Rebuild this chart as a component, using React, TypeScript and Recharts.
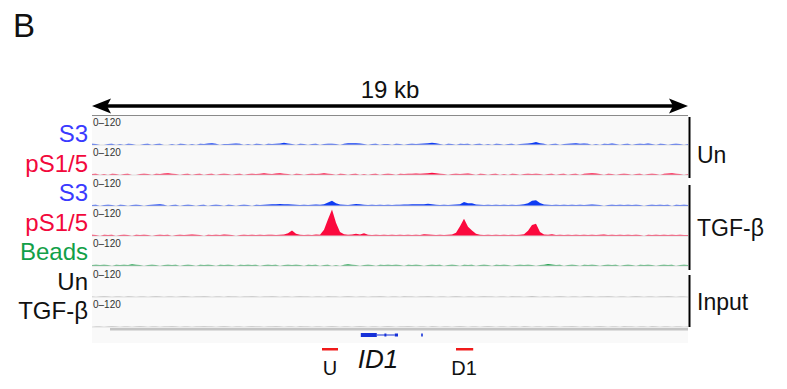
import { AreaChart, Area, XAxis, YAxis, ReferenceLine, ReferenceArea, ComposedChart, Line } from 'recharts';

// 19 kb window split into 150 bins; values are coverage on a 0–120 scale
const NBINS = 150;
const bins = Array.from({ length: NBINS }, (_, i) => i);

const s3Un = [
  5, 4, 0, 0, 4, 5, 0, 4, 0, 5, 4, 0, 0, 4, 5,
  0, 4, 5, 0, 0, 4, 0, 5, 4, 0, 4, 0, 5, 4, 6,
  8, 5, 0, 4, 4, 5, 6, 5, 0, 4, 0, 5, 4, 0, 5,
  4, 5, 6, 10, 6, 4, 0, 5, 4, 0, 4, 5, 0, 4, 5,
  5, 4, 0, 5, 7, 7, 8, 6, 4, 0, 4, 5, 0, 4, 4,
  0, 5, 4, 0, 4, 5, 4, 5, 6, 8, 10, 7, 4, 0, 5,
  4, 0, 5, 4, 5, 0, 4, 5, 0, 4, 0, 5, 4, 0, 4,
  5, 0, 4, 5, 6, 9, 13, 8, 5, 0, 4, 5, 0, 4, 5,
  6, 7, 5, 6, 5, 0, 4, 0, 5, 4, 6, 4, 0, 4, 5,
  0, 4, 5, 4, 6, 4, 0, 5, 4, 0, 4, 5, 4, 0, 4,
];

const pS15Un = [
  4, 5, 0, 4, 0, 5, 4, 0, 4, 5, 0, 0, 4, 5, 4,
  0, 5, 4, 6, 8, 5, 4, 0, 4, 5, 0, 4, 5, 0, 4,
  5, 0, 4, 5, 4, 0, 4, 5, 0, 4, 5, 4, 5, 7, 5,
  4, 6, 8, 5, 4, 0, 5, 4, 0, 4, 5, 4, 5, 7, 5,
  4, 0, 5, 4, 0, 4, 5, 0, 4, 0, 4, 5, 0, 4, 5,
  4, 0, 5, 4, 5, 5, 6, 5, 6, 7, 10, 7, 5, 4, 0,
  4, 5, 4, 5, 6, 4, 0, 5, 4, 0, 4, 5, 0, 4, 0,
  5, 4, 0, 4, 5, 4, 5, 4, 0, 4, 5, 0, 4, 5, 0,
  4, 5, 0, 5, 6, 8, 6, 4, 0, 5, 4, 0, 4, 5, 4,
  0, 4, 5, 0, 4, 5, 4, 0, 5, 6, 7, 5, 4, 0, 4,
];

const s3Tgf = [
  4, 5, 0, 4, 5, 4, 0, 5, 4, 0, 4, 5, 4, 0, 4,
  5, 6, 8, 5, 0, 4, 5, 0, 4, 5, 4, 0, 4, 5, 0,
  4, 5, 4, 0, 5, 4, 0, 4, 5, 4, 0, 5, 4, 5, 6,
  7, 8, 9, 8, 7, 6, 5, 4, 5, 4, 5, 6, 5, 7, 15,
  23, 12, 6, 5, 4, 6, 9, 8, 5, 4, 5, 4, 5, 4, 5,
  4, 5, 5, 6, 6, 7, 7, 8, 8, 10, 7, 5, 4, 5, 4,
  5, 6, 8, 17, 12, 12, 6, 5, 4, 5, 4, 5, 4, 5, 4,
  5, 4, 5, 8, 12, 23, 25, 13, 6, 5, 4, 5, 4, 5, 4,
  5, 4, 5, 4, 5, 6, 5, 4, 0, 4, 5, 4, 5, 4, 5,
  4, 5, 4, 0, 4, 5, 4, 5, 4, 5, 0, 5, 4, 5, 4,
];

const pS15Tgf = [
  5, 4, 0, 5, 4, 5, 0, 4, 5, 4, 0, 5, 4, 5, 4,
  0, 4, 5, 4, 5, 0, 4, 5, 4, 5, 6, 5, 4, 0, 5,
  4, 5, 4, 6, 5, 4, 0, 4, 5, 4, 5, 4, 5, 4, 5,
  5, 4, 5, 6, 12, 24, 10, 5, 4, 5, 4, 6, 5, 27, 72,
  114, 57, 17, 8, 5, 6, 10, 6, 12, 5, 4, 5, 4, 5, 4,
  5, 4, 5, 4, 5, 4, 5, 4, 7, 6, 5, 4, 5, 4, 5,
  6, 14, 42, 74, 40, 24, 10, 5, 4, 5, 4, 5, 4, 5, 4,
  5, 4, 5, 8, 22, 47, 52, 17, 6, 5, 7, 4, 5, 4, 5,
  4, 5, 4, 5, 4, 5, 4, 5, 6, 4, 5, 4, 5, 4, 5,
  4, 5, 4, 0, 5, 4, 5, 4, 5, 4, 5, 4, 5, 4, 4,
];

const beads = [
  4, 5, 4, 5, 4, 0, 5, 4, 5, 4, 7, 5, 4, 0, 4,
  5, 4, 0, 4, 5, 4, 5, 0, 4, 5, 4, 0, 5, 4, 5,
  4, 0, 5, 4, 5, 4, 0, 5, 4, 5, 4, 5, 0, 4, 5,
  4, 5, 0, 4, 5, 4, 5, 4, 0, 5, 4, 5, 0, 4, 5,
  0, 4, 0, 5, 7, 5, 4, 0, 4, 5, 4, 0, 5, 4, 5,
  4, 5, 4, 0, 5, 4, 5, 4, 0, 4, 5, 4, 5, 0, 4,
  5, 4, 0, 5, 4, 5, 0, 4, 5, 4, 0, 5, 4, 5, 4,
  0, 4, 5, 4, 5, 4, 0, 4, 5, 9, 6, 4, 5, 0, 4,
  5, 4, 0, 5, 4, 5, 4, 0, 4, 5, 4, 5, 0, 4, 5,
  4, 0, 5, 4, 5, 4, 0, 4, 5, 4, 5, 0, 4, 5, 4,
];

const inputUn = [
  2, 0, 2, 3, 2, 0, 2, 2, 0, 3, 2, 0, 2, 2, 0,
  2, 3, 2, 0, 2, 2, 0, 2, 3, 2, 0, 2, 2, 3, 2,
  0, 2, 2, 0, 3, 2, 2, 0, 2, 2, 3, 2, 0, 2, 2,
  3, 2, 0, 2, 2, 0, 2, 3, 2, 2, 0, 2, 2, 0, 3,
  2, 2, 0, 2, 3, 2, 0, 2, 2, 0, 2, 2, 3, 2, 0,
  2, 2, 0, 3, 2, 2, 0, 2, 2, 3, 2, 0, 2, 2, 0,
  2, 3, 2, 0, 2, 2, 0, 2, 3, 2, 2, 0, 2, 2, 0,
  3, 2, 2, 0, 2, 4, 2, 0, 2, 2, 0, 2, 3, 2, 0,
  2, 2, 0, 2, 3, 2, 0, 2, 2, 3, 2, 0, 2, 2, 0,
  2, 3, 2, 0, 2, 2, 0, 2, 2, 3, 2, 0, 2, 2, 0,
];

const inputTgf = [
  0, 2, 2, 0, 2, 3, 2, 0, 2, 2, 0, 2, 3, 2, 0,
  2, 2, 0, 2, 2, 3, 2, 0, 2, 2, 0, 2, 2, 3, 2,
  2, 0, 2, 3, 2, 0, 2, 2, 0, 2, 3, 2, 2, 0, 2,
  2, 3, 2, 0, 2, 2, 0, 3, 2, 2, 0, 2, 2, 0, 2,
  3, 2, 0, 2, 2, 0, 2, 3, 2, 0, 2, 2, 0, 2, 3,
  2, 0, 2, 2, 3, 2, 0, 2, 2, 0, 3, 2, 0, 2, 2,
  0, 2, 3, 2, 0, 2, 2, 0, 2, 3, 2, 0, 2, 2, 0,
  2, 2, 0, 3, 2, 0, 2, 2, 0, 2, 3, 2, 0, 2, 2,
  3, 2, 0, 2, 2, 0, 2, 3, 2, 0, 2, 2, 0, 3, 2,
  2, 0, 2, 2, 0, 3, 2, 0, 2, 2, 0, 2, 2, 0, 2,
];

// ID1 gene model and primer amplicons, in bin units
const exonStarts = [67.2, 73.1, 75.7, 82.3];
const exonEnds = [71.2, 73.6, 76.5, 82.7];
const intron = [71.2, 75.7];
const primerU = [57.5, 61.5];
const primerD1 = [91, 95.3];
const refStart = 4.5;

const BLUE = '#0f3cf3';
const RED = '#fb0a3e';
const GREEN = '#21a04e';
const GRAY = '#a8a8a8';
const FONT = '"Liberation Sans", Arial, sans-serif';

const tracks = [
  { values: s3Un, color: BLUE, label: 'S3', labelColor: '#3a3aff' },
  { values: pS15Un, color: RED, label: 'pS1/5', labelColor: '#f2083c' },
  { values: s3Tgf, color: BLUE, label: 'S3', labelColor: '#3a3aff' },
  { values: pS15Tgf, color: RED, label: 'pS1/5', labelColor: '#f2083c' },
  { values: beads, color: GREEN, label: 'Beads', labelColor: '#12a048' },
  { values: inputUn, color: GRAY, label: 'Un', labelColor: '#111' },
  { values: inputTgf, color: GRAY, label: 'TGF-β', labelColor: '#111' },
];

const PANEL_X = 92;
const PANEL_W = 596;
const TRACK_H = 30;
const firstBase = 145;
const step = 30.33;

function Track({ values, color, top }: { values: number[]; color: string; top: number }) {
  const data = bins.map(i => ({ bin: i, v: values[i] }));
  return (
    <div style={{ position: 'absolute', left: PANEL_X, top, width: PANEL_W, height: TRACK_H }}>
      <AreaChart width={PANEL_W} height={TRACK_H} data={data} margin={{ top: 1, right: 0, bottom: 1, left: 0 }}>
        <XAxis dataKey="bin" type="number" domain={[0, NBINS - 1]} hide />
        <YAxis domain={[0, 120]} hide allowDataOverflow />
        <ReferenceLine y={0} stroke="#dedede" strokeWidth={1} />
        <Area dataKey="v" type="linear" stroke="none" fill={color} fillOpacity={1} isAnimationActive={false} />
      </AreaChart>
    </div>
  );
}

function GeneTrack() {
  const data = [{ bin: 0, y: 0 }, { bin: NBINS - 1, y: 0 }];
  const fillProps = { fillOpacity: 1, stroke: 'none', ifOverflow: 'visible' as const };
  return (
    <div style={{ position: 'absolute', left: PANEL_X, top: 326, width: PANEL_W, height: 30 }}>
      <ComposedChart width={PANEL_W} height={30} data={data} margin={{ top: 0, right: 0, bottom: 0, left: 0 }}>
        <XAxis dataKey="bin" type="number" domain={[0, NBINS - 1]} hide />
        <YAxis dataKey="y" type="number" domain={[0, 30]} reversed hide />
        <Line dataKey="y" stroke="none" dot={false} isAnimationActive={false} />
        <ReferenceArea x1={refStart} x2={NBINS - 1} y1={2} y2={4.5} fill="#c4c4c4" {...fillProps} />
        <ReferenceArea x1={intron[0]} x2={intron[1]} y1={8.5} y2={9.5} fill="#1530d8" {...fillProps} />
        {exonStarts.map((s, k) => (
          <ReferenceArea key={k} x1={s} x2={exonEnds[k]} y1={k === 0 ? 7 : 7.5} y2={k === 0 ? 11 : 10.5}
            fill="#1530d8" {...fillProps} />
        ))}
        <ReferenceArea x1={primerU[0]} x2={primerU[1]} y1={22} y2={24.5} fill="#f01a1a" {...fillProps} />
        <ReferenceArea x1={primerD1[0]} x2={primerD1[1]} y1={22} y2={24.5} fill="#f01a1a" {...fillProps} />
      </ComposedChart>
    </div>
  );
}

export default function App() {
  const bases = tracks.map((_, k) => firstBase + k * step);
  return (
    <div style={{ position: 'absolute', left: 0, top: 0, width: 787, height: 389, background: '#fff', fontFamily: FONT }}>
      <div style={{ position: 'absolute', left: PANEL_X, top: 115, width: PANEL_W, height: 227, background: '#f9f9f9', borderTop: '1px solid #8a8a8a' }} />
      {tracks.map((t, k) => (
        <Track key={k} values={t.values} color={t.color} top={bases[k] - TRACK_H + 1} />
      ))}
      <GeneTrack />
      <svg width={787} height={389} style={{ position: 'absolute', left: 0, top: 0, pointerEvents: 'none' }} fontFamily={FONT}>
        <text x={13} y={37} fontSize={33} fill="#111">B</text>
        <text x={390} y={98} fontSize={24} textAnchor="middle" fill="#111">19 kb</text>
        <line x1={104} y1={106} x2={676} y2={106} stroke="#000" strokeWidth={3.5} />
        <polygon points="92,106 111,98.5 107,106 111,113.5" fill="#000" />
        <polygon points="688,106 669,98.5 673,106 669,113.5" fill="#000" />
        {bases.map((b, k) => (
          <text key={k} x={93} y={b - 19} fontSize={10} fill="#333">0–120</text>
        ))}
        {tracks.map((t, k) => (
          <text key={k} x={88} y={142 + k * 29.5} fontSize={24} textAnchor="end" fill={t.labelColor}>{t.label}</text>
        ))}
        <line x1={689.5} y1={117} x2={689.5} y2={178} stroke="#000" strokeWidth={2} />
        <line x1={689.5} y1={185} x2={689.5} y2={270} stroke="#000" strokeWidth={2} />
        <line x1={689.5} y1={275} x2={689.5} y2={327} stroke="#000" strokeWidth={2} />
        <text x={697} y={163} fontSize={23} fill="#111">Un</text>
        <text x={697} y={236} fontSize={23} fill="#111">TGF-β</text>
        <text x={697} y={310} fontSize={23} fill="#111">Input</text>
        <text x={378} y={368} fontSize={26} fontStyle="italic" textAnchor="middle" fill="#111">ID1</text>
        <text x={330} y={375} fontSize={20} textAnchor="middle" fill="#111">U</text>
        <text x={464} y={375} fontSize={20} textAnchor="middle" fill="#111">D1</text>
      </svg>
    </div>
  );
}
